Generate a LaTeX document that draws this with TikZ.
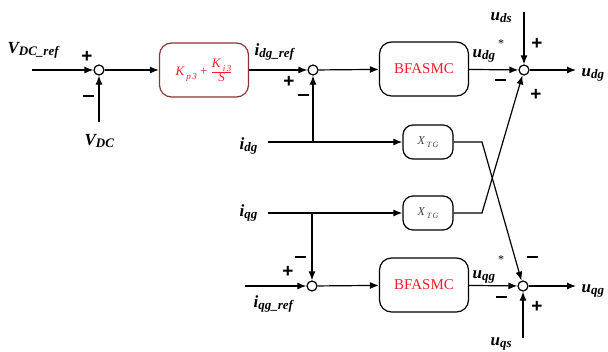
\documentclass[tikz,border=0pt]{standalone}
\usepackage{fontspec}
\setmainfont{Liberation Serif}
\setsansfont{Liberation Sans}
\usetikzlibrary{arrows.meta,positioning}

\definecolor{pibord}{RGB}{140,52,52}
\definecolor{ctrltxt}{RGB}{240,30,40}

% signal name: bold italic letter with a bold italic subscript
\newcommand{\sig}[2]{{\fontsize{17}{17}\selectfont\bfseries\itshape #1}\raisebox{-0.45ex}{\fontsize{13}{13}\selectfont\bfseries\itshape #2}}
\newcommand{\kk}[1]{{\itshape K}\,\raisebox{-0.7ex}{\fontsize{9}{9}\selectfont\itshape #1}}
\newcommand{\xtg}{\fontsize{12}{12}\selectfont\color{black!75}\itshape X\,\raisebox{-0.6ex}{\fontsize{8}{8}\selectfont T\,G}}

\begin{document}
\begin{tikzpicture}[x=1pt,y=-1pt,>={Latex[length=9pt,width=7pt]},line width=1.2pt,
  sum/.style={circle,draw,fill=white,inner sep=0pt,minimum size=10pt},
  ctrl/.style={draw,rounded corners=12pt,minimum width=89pt,minimum height=54pt},
  gain/.style={draw,rounded corners=10pt,minimum width=50pt,minimum height=34pt},
  plus/.style={font=\sffamily\bfseries\fontsize{19}{19}\selectfont,inner sep=0pt},
  minus/.style={fill,minimum width=11pt,minimum height=2.8pt,inner sep=0pt},
  star/.style={font=\fontsize{12}{12}\selectfont,inner sep=0pt},
  lbl/.style={inner sep=0pt,anchor=base west}]

\useasboundingbox (0,0) rectangle (608,351);

% summing points and blocks
\node[sum] (s1) at (99,70) {};
\node[ctrl,draw=pibord] (pi) at (204,70) {\color{ctrltxt}\fontsize{13}{13}\selectfont
  \kk{p\,3} + $\frac{\hbox{\kk{i\,3}}}{\hbox{\itshape S}}$};
\node[sum] (s2) at (313,70) {};
\node[ctrl] (bd) at (424,69) {\color{ctrltxt}\fontsize{15}{15}\selectfont BFASMC};
\node[sum] (s3) at (524,70) {};
\node[gain] (xd) at (428,142) {\xtg};
\node[gain] (xq) at (428,213) {\xtg};
\node[sum] (s4) at (312,286) {};
\node[ctrl] (bq) at (424,285) {\color{ctrltxt}\fontsize{15}{15}\selectfont BFASMC};
\node[sum] (s5) at (523,286) {};

% loose ends
\coordinate (vin) at (32,70);
\coordinate (vdc) at (99,122);
\coordinate (idin) at (268,142);
\coordinate (iqin) at (268,213);
\coordinate (jd) at (313,142);
\coordinate (jq) at (312,213);
\coordinate (xdo) at (482,142);
\coordinate (xqo) at (482,213);
\coordinate (uds) at (524,12);
\coordinate (udo) at (576,70);
\coordinate (iqr) at (245,286);
\coordinate (uqs) at (523,338);
\coordinate (uqo) at (576,286);

% d axis
\draw[->] (vin) -- (s1);
\draw[->] (vdc) -- (s1);
\draw[->] (s1) -- (pi);
\draw[->] (pi) -- (s2);
\draw[->] (idin) -- (xd);
\draw[->] (jd) -- (s2);
\draw[->] (s2) -- (bd);
\draw[->] (bd) -- (s3);
\draw[->] (uds) -- (s3);
\draw[->] (s3) -- (udo);

% q axis
\draw[->] (iqin) -- (xq);
\draw[->] (jq) -- (s4);
\draw[->] (iqr) -- (s4);
\draw[->] (s4) -- (bq);
\draw[->] (bq) -- (s5);
\draw[->] (uqs) -- (s5);
\draw[->] (s5) -- (uqo);

% cross coupling
\draw[->] (xd) -- (xdo) -- (s5);
\draw[->] (xq) -- (xqo) -- (s3);

% signal names
\node[lbl] (l1) at (7,53) {\sig{V}{DC\_ref}};
\node[lbl] (l2) at (84,145) {\sig{V}{DC}};
\node[lbl] (l3) at (254,55) {\sig{i}{dg\_ref}};
\node[lbl] (l4) at (239,149) {\sig{i}{dg}};
\node[lbl] (l5) at (239,216) {\sig{i}{qg}};
\node[lbl] (l6) at (253,307) {\sig{i}{qg\_ref}};
\node[lbl] (l7) at (472,57) {\sig{u}{dg}};
\node[star] (l8) at (501,44) {*};
\node[lbl] (l9) at (490,20) {\sig{u}{ds}};
\node[lbl] (l10) at (581,76) {\sig{u}{dg}};
\node[lbl] (l11) at (472,278) {\sig{u}{qg}};
\node[star] (l12) at (501,260) {*};
\node[lbl] (l13) at (490,345) {\sig{u}{qs}};
\node[lbl] (l14) at (581,292) {\sig{u}{qg}};

% signs
\node[plus] (p1) at (87,57) {+};
\node[minus] (m1) at (88,96) {};
\node[plus] (p2) at (289,82) {+};
\node[minus] (m2) at (303,95) {};
\node[plus] (p3) at (537,44) {+};
\node[minus] (m3) at (500,80) {};
\node[plus] (p4) at (536,95) {+};
\node[minus] (m4) at (300,257) {};
\node[plus] (p5) at (288,272) {+};
\node[minus] (m5) at (501,297) {};
\node[minus] (m6) at (532,257) {};
\node[plus] (p6) at (537,307) {+};
\end{tikzpicture}
\end{document}
